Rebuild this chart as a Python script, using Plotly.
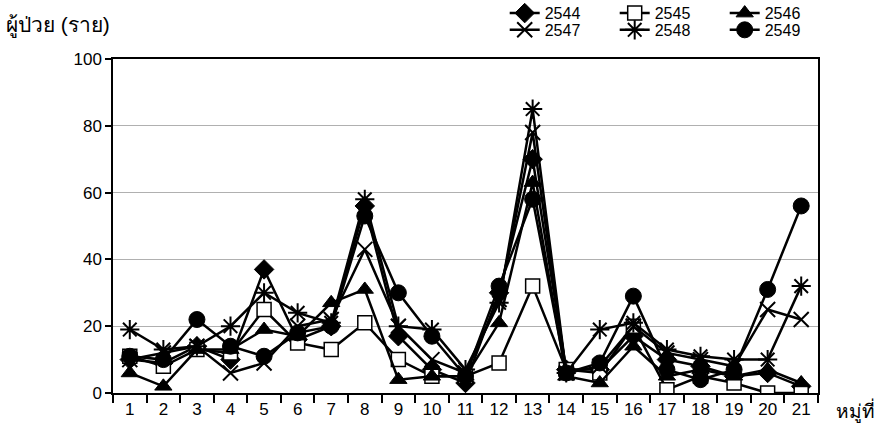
import plotly.graph_objects as go

villages = [str(i) for i in range(1, 22)]
years = ["2544", "2545", "2546", "2547", "2548", "2549"]

y2544 = [10, 9, 14, 10, 37, 16, 20, 56, 17, 7, 3, 30, 70, 7, 7, 17, 10, 8, 5, 6, 2]
y2545 = [11, 8, 13, 12, 25, 15, 13, 21, 10, 5, 5, 9, 32, 7, 6, 20, 1, 5, 3, 0, 0]
y2546 = [6, 2, 13, 13, 19, 17, 27, 31, 4, 5, 5, 21, 63, 5, 3, 14, 5, 7, 5, 7, 3]
y2547 = [10, 12, 14, 6, 9, 20, 22, 43, 20, 10, 6, 28, 78, 6, 8, 20, 12, 10, 8, 25, 22]
y2548 = [19, 13, 14, 20, 30, 24, 21, 58, 20, 19, 7, 27, 85, 6, 19, 21, 13, 11, 10, 10, 32]
y2549 = [11, 10, 22, 14, 11, 18, 20, 53, 30, 17, 5, 32, 58, 6, 9, 29, 7, 4, 7, 31, 56]

series = [y2544, y2545, y2546, y2547, y2548, y2549]

y_title = "ผู้ป่วย (ราย)"
x_title = "หมู่ที่"

FONT = "Liberation Sans Narrow, Arial Narrow, Liberation Sans, Arial, sans-serif"

styles = [
    dict(symbol="diamond", size=15, color="black", line=dict(color="black", width=1)),
    dict(symbol="square", size=14, color="white", line=dict(color="black", width=1.5)),
    dict(symbol="triangle-up", size=15, color="black", line=dict(color="black", width=1)),
    dict(symbol="x-thin-open", size=15, color="black", line=dict(color="black", width=2)),
    dict(symbol="asterisk-open", size=16, color="black", line=dict(color="black", width=2)),
    dict(symbol="circle", size=16, color="black", line=dict(color="black", width=1)),
]

fig = go.Figure()
for i, (name, ys) in enumerate(zip(years, series)):
    fig.add_trace(go.Scatter(
        x=villages, y=ys, name=name, mode="lines+markers",
        line=dict(color="black", width=2.5),
        marker=styles[i],
        legend="legend" if i < 3 else "legend2",
    ))

legend_common = dict(
    orientation="h", xanchor="left", yanchor="middle",
    xref="container", yref="container",
    font=dict(family=FONT, size=16, color="black"),
    bgcolor="rgba(0,0,0,0)", entrywidth=65, entrywidthmode="pixels",
    itemwidth=30, tracegroupgap=0,
)

fig.update_layout(
    width=887, height=440,
    margin=dict(l=113, r=69, t=59, b=47, autoexpand=False),
    paper_bgcolor="white", plot_bgcolor="white",
    font=dict(family=FONT, size=16, color="black"),
    showlegend=True,
    legend=dict(x=0.569, y=0.970, **legend_common),
    legend2=dict(x=0.569, y=0.932, **legend_common),
    xaxis=dict(
        type="category", range=[-0.5, len(villages) - 0.5],
        tickson="boundaries", ticks="outside", ticklen=8,
        tickcolor="black", tickwidth=1.5, showline=True, linecolor="black",
        linewidth=1.5, mirror=True, showgrid=False,
        tickfont=dict(family=FONT, size=17, color="black"),
    ),
    yaxis=dict(
        range=[0, 100], dtick=20, ticks="outside", ticklen=6, tickcolor="black",
        tickwidth=1.5, showline=True, linecolor="black", linewidth=1.5, mirror=True,
        showgrid=True, gridcolor="#b0b0b0", gridwidth=1, zeroline=False,
        tickfont=dict(family=FONT, size=17, color="black"),
    ),
    annotations=[
        dict(text=y_title, xref="paper", yref="paper", x=-0.155, y=1.10,
             xanchor="left", yanchor="middle", showarrow=False,
             font=dict(family=FONT, size=21, color="black")),
        dict(text=x_title, xref="paper", yref="paper", x=1.022, y=-0.051,
             xanchor="left", yanchor="middle", showarrow=False,
             font=dict(family=FONT, size=19, color="black")),
    ],
)

fig.write_html("out.html",
               config={"displayModeBar": False},
               post_script="document.body.style.margin='0';document.body.style.overflow='hidden';")
